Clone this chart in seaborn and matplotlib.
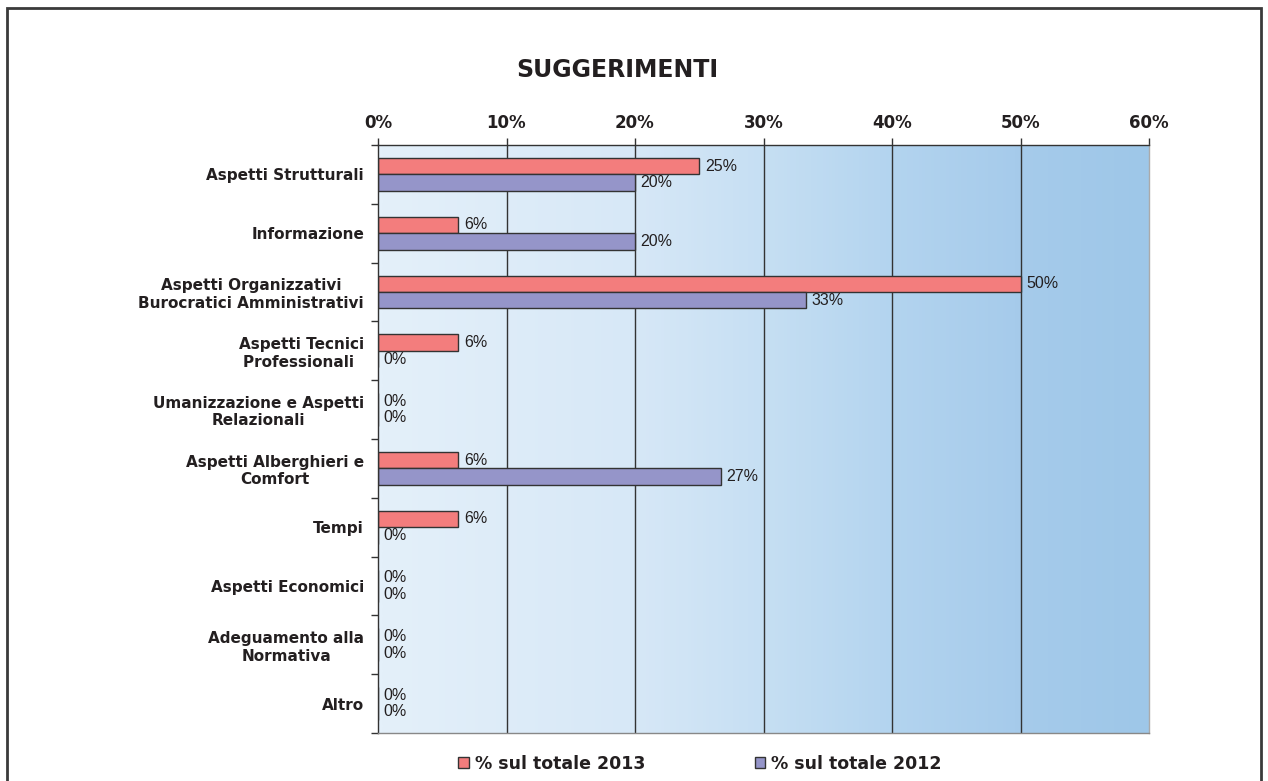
import numpy as np
import pandas as pd
import matplotlib
matplotlib.use("Agg")
import matplotlib.pyplot as plt
from matplotlib.colors import LinearSegmentedColormap
from matplotlib.patches import Rectangle
import seaborn as sns

# --- data -------------------------------------------------------------
categories = [
    "Aspetti Strutturali",
    "Informazione",
    "Aspetti Organizzativi\nBurocratici Amministrativi",
    "Aspetti Tecnici\nProfessionali ",
    "Umanizzazione e Aspetti\nRelazionali",
    "Aspetti Alberghieri e\nComfort",
    "Tempi",
    "Aspetti Economici",
    "Adeguamento alla\nNormativa",
    "Altro",
]
series_names = ["% sul totale 2013", "% sul totale 2012"]
values_2013 = [25.0, 6.25, 50.0, 6.25, 0.0, 6.25, 6.25, 0.0, 0.0, 0.0]
values_2012 = [20.0, 20.0, 33.33, 0.0, 0.0, 26.67, 0.0, 0.0, 0.0, 0.0]
x_ticks = [0, 10, 20, 30, 40, 50, 60]
x_tick_labels = ["0%", "10%", "20%", "30%", "40%", "50%", "60%"]

df = pd.DataFrame({
    "categoria": categories * 2,
    "valore": values_2013 + values_2012,
    "serie": [series_names[0]] * len(categories) + [series_names[1]] * len(categories),
})

# --- style ------------------------------------------------------------
sns.set_style("white")
plt.rcParams["font.family"] = ["DejaVu Sans"]
text_color = "#231f20"
palette = {series_names[0]: "#f37d7d", series_names[1]: "#9595c9"}

fig = plt.figure(figsize=(12.68, 7.81), dpi=100)
ax = fig.add_axes([378 / 1268, 1 - 733 / 781, (1149 - 378) / 1268, (733 - 145) / 781])

sns.barplot(
    data=df, y="categoria", x="valore", hue="serie", orient="h",
    palette=palette, width=0.56, edgecolor="#333333", linewidth=1.0,
    saturation=1, ax=ax, legend=True, zorder=3,
)

# horizontal gradient background of the plot area
grad_cmap = LinearSegmentedColormap.from_list(
    "bg",
    [(0.0, "#e4f0fa"), (0.33, "#d7e8f7"), (0.5, "#c6dff3"),
     (0.67, "#b3d4ef"), (0.83, "#a6cbeb"), (1.0, "#9ec7e8")],
)
ax.imshow(np.linspace(0, 1, 256).reshape(1, -1), cmap=grad_cmap, aspect="auto",
          extent=(0, 60, 9.5, -0.5), zorder=0, interpolation="bilinear")
ax.set_xlim(0, 60)
ax.set_ylim(9.5, -0.5)

# vertical grid lines, behind the bars
for gx in x_ticks[1:-1]:
    ax.axvline(gx, color="#333333", lw=1.0, zorder=1)

# value labels
for cont in ax.containers:
    vals = cont.datavalues
    ax.bar_label(cont, labels=[f"{round(v)}%" for v in vals], padding=4,
                 fontsize=11.5, color=text_color, family="Liberation Sans")

# axes: x ticks on top
ax.xaxis.tick_top()
ax.set_xticks(x_ticks)
ax.set_xticklabels(x_tick_labels, fontsize=12, fontweight="bold", color=text_color)
ax.tick_params(axis="x", which="major", direction="out", length=5, width=1,
               color="#333333", pad=4, top=True, bottom=False)

ax.set_yticks(range(len(categories)))
ax.set_yticklabels(categories, fontsize=11, fontweight="bold", color=text_color,
                   multialignment="center", linespacing=1.2)
ax.set_yticks(np.arange(-0.5, len(categories), 1), minor=True)
ax.tick_params(axis="y", which="major", length=0, pad=10)
ax.tick_params(axis="y", which="minor", direction="out", length=5, width=1,
               color="#333333", left=True)
ax.set_xlabel("")
ax.set_ylabel("")

for side, sp in ax.spines.items():
    sp.set_visible(True)
    sp.set_linewidth(1.0)
    sp.set_zorder(4)
ax.spines["top"].set_color("#333333")
ax.spines["left"].set_color("#333333")
ax.spines["bottom"].set_color("#888888")
ax.spines["right"].set_color("#aaaaaa")

# legend below the plot
handles, labels = ax.get_legend_handles_labels()
ax.get_legend().remove()
fig.legend(handles, labels, loc="center", bbox_to_anchor=(700 / 1268, 1 - 764 / 781),
           ncol=2, frameon=False, handlelength=0.6, handleheight=0.6,
           handletextpad=0.35, columnspacing=6.3,
           prop={"size": 12.5, "weight": "bold"}, labelcolor=text_color)

# title
fig.text(617 / 1268, 1 - 70 / 781, "SUGGERIMENTI", ha="center", va="center",
         fontsize=17, fontweight="bold", color=text_color)

# outer frame of the chart
fig.patches.append(Rectangle((6.5 / 1268, -0.05), (1261 - 6.5) / 1268, 1.05 - 7.5 / 781,
                             transform=fig.transFigure, fill=False,
                             edgecolor="#3a3a3a", linewidth=2))

fig.savefig("out.png", dpi=100)
